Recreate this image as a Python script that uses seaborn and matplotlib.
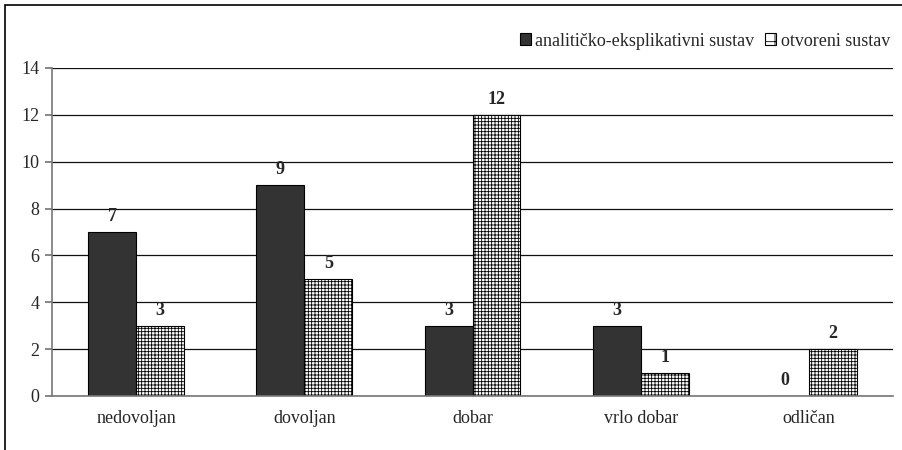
import matplotlib
matplotlib.use("Agg")
import matplotlib.pyplot as plt
import seaborn as sns
import pandas as pd
import numpy as np
from matplotlib.patches import Rectangle

categories = ["nedovoljan", "dovoljan", "dobar", "vrlo dobar", "odličan"]
series_names = ["analitičko-eksplikativni sustav", "otvoreni sustav"]
analiticko = [7, 9, 3, 3, 0]
otvoreni = [3, 5, 12, 1, 2]
y_ticks = [0, 2, 4, 6, 8, 10, 12, 14]

df = pd.DataFrame({
    "kategorija": categories * 2,
    "sustav": [series_names[0]] * 5 + [series_names[1]] * 5,
    "vrijednost": analiticko + otvoreni,
})

sns.set_theme(style="white")
plt.rcParams["font.family"] = ["Liberation Serif", "DejaVu Serif"]
plt.rcParams["hatch.color"] = "#666666"
plt.rcParams["hatch.linewidth"] = 0.6

fig = plt.figure(figsize=(9.03, 4.5), dpi=100)
ax = fig.add_axes([52/903, 1-396/450, (893-52)/903, (396-68)/450])

sns.barplot(data=df, x="kategorija", y="vrijednost", hue="sustav",
            order=categories, hue_order=series_names,
            palette=["#333333", "white"], width=0.57, dodge=True,
            edgecolor="black", linewidth=0.8, ax=ax, legend=False, saturation=1)

for i, cont in enumerate(ax.containers):
    for bar in cont:
        if i == 1:
            bar.set_hatch("+++++")
        h = bar.get_height()
        ax.text(bar.get_x() + bar.get_width()/2, h + 0.3, f"{int(h)}",
                ha="center", va="bottom", fontsize=13, fontweight="bold")

ax.set_ylim(0, 14)
ax.set_xlim(-0.5, 4.5)
ax.set_yticks(y_ticks)
ax.set_yticklabels([str(t) for t in y_ticks], fontsize=13)
ax.yaxis.grid(True, color="#111111", linewidth=0.9)
ax.set_axisbelow(True)
ax.set_xlabel("")
ax.set_ylabel("")
ax.tick_params(axis="x", which="major", length=0, labelsize=13, pad=10)
ax.set_xticks(np.arange(-0.5, 5, 1), minor=True)
ax.tick_params(axis="x", which="minor", length=5, color="#777777", direction="out")
ax.tick_params(axis="y", length=5, color="#777777", direction="out", pad=4, left=True)
for s in ["top", "right"]:
    ax.spines[s].set_visible(False)
for s in ["left", "bottom"]:
    ax.spines[s].set_color("#777777")
    ax.spines[s].set_linewidth(1.2)

handles = [Rectangle((0, 0), 1, 1, facecolor="#333333", edgecolor="black", linewidth=0.8),
           Rectangle((0, 0), 1, 1, facecolor="white", edgecolor="black", linewidth=0.8, hatch="+")]
fig.legend(handles, series_names, loc="center right", bbox_to_anchor=(897/903, 1-41/450),
           ncol=2, frameon=False, fontsize=13, handlelength=0.6, handleheight=0.6,
           handletextpad=0.25, columnspacing=0.6, borderaxespad=0)

fig.patches.append(Rectangle((5/903, -0.1), 1.2, 1 - 5/450 + 0.1, transform=fig.transFigure,
                             fill=False, edgecolor="black", linewidth=1.2, clip_on=False))

fig.savefig("out.png", dpi=100)
